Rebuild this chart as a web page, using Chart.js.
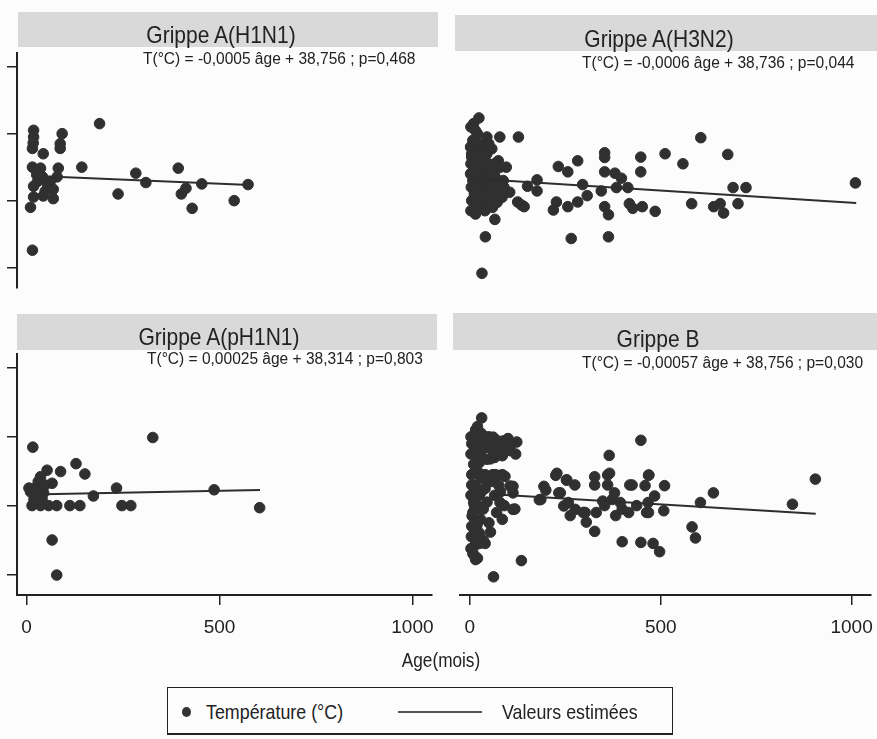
<!DOCTYPE html>
<html lang="fr">
<head>
<meta charset="UTF-8">
<title>Température selon l'âge - grippe</title>
<script src="https://cdn.jsdelivr.net/npm/chart.js"></script>
<style>
  body { margin: 0; background: #fcfcfc; }
  #page { position: relative; width: 877px; height: 739px; overflow: hidden;
          font-family: "Liberation Sans", Arial, sans-serif; color: #222; }
  .bande { position: absolute; background: #d9d9d9; }
  .titre { position: absolute; font-size: 24px; line-height: 1; white-space: nowrap;
           transform: translateX(-50%) scaleX(0.875); }
  .equation { position: absolute; font-size: 16px; line-height: 1; white-space: nowrap;
              transform-origin: left center; transform: scaleX(0.97); }
  canvas { position: absolute; }
  #axeX { position: absolute; left: 441px; top: 650px; font-size: 20px; line-height: 1; white-space: nowrap;
          transform: translateX(-50%) scaleX(0.86); }
  #legende { position: absolute; left: 167px; top: 687px; width: 504px; height: 45px;
             border: 1.5px solid #222; border-bottom-width: 2.5px; }
  .leg { position: absolute; font-size: 21px; line-height: 1; top: 13px; white-space: nowrap;
         transform-origin: left center; transform: scaleX(0.85); }
  #legPoint { position: absolute; left: 14px; top: 19px; width: 9px; height: 10px; border-radius: 50%; background: #333; }
  #legLigne { position: absolute; left: 230px; top: 23px; width: 84px; height: 2px; background: #555; }
</style>
</head>
<body>
<div id="page">

  <div class="bande" style="left:18px; top:12px; width:420px; height:35px"></div>
  <div class="bande" style="left:455px; top:15px; width:422px; height:36px"></div>
  <div class="bande" style="left:17px; top:314px; width:420px; height:36px"></div>
  <div class="bande" style="left:453px; top:313px; width:424px; height:37px"></div>

  <canvas id="g_h1n1" width="431" height="247" style="left:7px; top:47px"></canvas>
  <canvas id="g_h3n2" width="421" height="247" style="left:454px; top:47px"></canvas>
  <canvas id="g_ph1n1" width="431" height="302" style="left:7px; top:348px"></canvas>
  <canvas id="g_b" width="423" height="302" style="left:454px; top:348px"></canvas>

  <div class="titre" style="left:221px; top:23px">Grippe A(H1N1)</div>
  <div class="titre" style="left:659px; top:27px">Grippe A(H3N2)</div>
  <div class="titre" style="left:219px; top:325px">Grippe A(pH1N1)</div>
  <div class="titre" style="left:658px; top:327px">Grippe B</div>

  <div class="equation" style="left:143px; top:51px">T(°C) = -0,0005 âge + 38,756 ; p=0,468</div>
  <div class="equation" style="left:582px; top:55px">T(°C) = -0,0006 âge + 38,736 ; p=0,044</div>
  <div class="equation" style="left:147px; top:351px">T(°C) = 0,00025 âge + 38,314 ; p=0,803</div>
  <div class="equation" style="left:582px; top:355px">T(°C) = -0,00057 âge + 38,756 ; p=0,030</div>

  <div id="axeX">Age(mois)</div>

  <div id="legende">
    <div id="legPoint"></div>
    <div class="leg" style="left:38px">Température (°C)</div>
    <div id="legLigne"></div>
    <div class="leg" style="left:334px">Valeurs estimées</div>
  </div>

</div>

<script>
  // valeurs (âge en mois, température en °C)
  var ageTicks = [0, 500, 1000];
  var tempTicks = [36, 38, 40, 42];

  var h1n1Age = [18, 18, 15, 43, 92, 87, 87, 189, 15, 36,
                 82, 143, 283, 309, 393, 413, 401, 429, 454, 538,
                 574, 237, 15, 10, 18, 43, 69, 61, 79, 28,
                 54, 41, 18, 69, 26, 48, 17];
  var h1n1Temp = [40.1, 39.9, 39.56, 39.4, 40.0, 39.56, 39.7, 40.3, 39.0, 38.97,
                  38.97, 39.0, 38.82, 38.54, 38.97, 38.37, 38.2, 37.77, 38.5, 38.0,
                  38.48, 38.2, 36.52, 37.8, 38.11, 38.14, 38.06, 38.57, 38.71, 38.57,
                  38.48, 38.71, 38.43, 38.34, 38.77, 38.28, 39.72];
  var h1n1FitAge = [43, 579];
  var h1n1FitTemp = [38.73, 38.47];

  var h3n2Age = [24, 15, 45, 79, 128, 608, 355, 355, 450, 514,
                 679, 561, 284, 233, 258, 355, 382, 399, 450, 177,
                 152, 177, 297, 309, 346, 386, 416, 693, 727, 1015,
                 228, 220, 258, 284, 355, 365, 420, 429, 454, 488,
                 584, 642, 659, 668, 706, 105, 126, 143, 66, 41,
                 267, 365, 32, 96, 75, 136, 3, 8, 2, 12,
                 5, 18, 25, 30, 3, 10, 20, 35, 40, 45,
                 50, 2, 8, 15, 22, 28, 34, 42, 48, 55,
                 60, 65, 4, 12, 18, 25, 32, 38, 45, 52,
                 58, 63, 70, 78, 5, 10, 20, 30, 40, 50,
                 60, 72, 85, 88, 3, 15, 10, 20, 5, 15,
                 25, 35, 45, 55, 65, 75, 80, 90, 20, 10,
                 30, 50, 58];
  var h3n2Temp = [40.47, 40.09, 39.9, 39.9, 39.9, 39.88, 39.43, 39.29, 39.3, 39.4,
                  39.38, 39.1, 39.19, 39.02, 38.86, 38.86, 38.82, 38.67, 38.86, 38.62,
                  38.43, 38.29, 38.48, 38.15, 38.29, 38.39, 38.39, 38.39, 38.39, 38.53,
                  37.96, 37.72, 37.82, 37.96, 37.82, 37.58, 37.91, 37.77, 37.82, 37.68,
                  37.91, 37.82, 37.91, 37.63, 37.91, 38.25, 37.96, 37.82, 37.44, 36.92,
                  36.87, 36.92, 35.83, 39.0, 39.19, 37.87, 40.2, 39.8, 39.6, 39.5,
                  39.3, 39.4, 39.7, 39.5, 39.1, 39.0, 39.1, 39.2, 39.6, 39.4,
                  39.1, 38.8, 38.6, 38.8, 38.7, 38.5, 38.9, 38.8, 38.6, 38.9,
                  38.7, 39.1, 38.4, 38.2, 38.4, 38.1, 38.3, 38.0, 38.3, 38.2,
                  38.4, 38.0, 38.3, 38.5, 38.0, 37.75, 37.9, 37.8, 37.7, 37.9,
                  37.8, 37.95, 38.1, 38.6, 37.7, 37.6, 40.3, 40.0, 39.4, 39.2,
                  38.95, 38.6, 38.1, 38.5, 38.8, 38.6, 39.0, 38.4, 38.3, 38.5,
                  39.3, 39.7, 39.55];
  var h3n2FitAge = [15, 1017];
  var h3n2FitTemp = [38.65, 37.93];

  var ph1n1Age = [16, 327, 88, 128, 151, 53, 36, 66, 6, 27,
                  44, 173, 233, 486, 14, 36, 57, 78, 112, 138,
                  247, 270, 604, 66, 78, 19, 10, 22, 30, 48,
                  40];
  var ph1n1Temp = [39.7, 39.98, 38.99, 39.22, 38.92, 39.03, 38.84, 38.65, 38.51, 38.56,
                   38.37, 38.28, 38.51, 38.46, 38.0, 38.0, 38.0, 38.0, 38.0, 38.0,
                   38.0, 38.0, 37.94, 37.0, 35.98, 38.18, 38.4, 38.3, 38.7, 38.6,
                   38.2];
  var ph1n1FitAge = [44, 605];
  var ph1n1FitTemp = [38.33, 38.45];

  var bAge = [31, 448, 365, 905, 638, 604, 845, 582, 591, 399,
              448, 480, 497, 135, 62, 15, 425, 469, 459, 510,
              508, 327, 327, 361, 361, 228, 254, 275, 194, 186,
              113, 118, 237, 246, 263, 297, 305, 327, 331, 382,
              399, 373, 416, 467, 463, 484, 348, 15, 61, 87,
              123, 105, 79, 46, 28, 54, 10, 72, 105, 113,
              79, 113, 10, 28, 10, 54, 3, 20, 225, 253,
              199, 233, 182, 258, 276, 302, 366, 419, 468, 379,
              394, 353, 437, 468, 3, 8, 3, 10, 5, 15,
              3, 12, 6, 18, 4, 10, 25, 30, 20, 35,
              40, 45, 55, 65, 70, 25, 15, 35, 50, 70,
              90, 100, 60, 40, 8, 20, 30, 80, 90, 85,
              5, 20, 40, 55, 75, 95, 110, 120, 30, 65,
              85, 45, 10, 25, 5, 15, 20, 8, 20, 5,
              15, 25, 12, 30, 30, 40, 48, 60, 75, 85,
              50, 35, 66, 92];
  var bTemp = [40.55, 39.9, 39.46, 38.77, 38.37, 38.09, 38.04, 37.38, 37.06, 36.95,
               36.93, 36.9, 36.66, 36.4, 35.93, 36.43, 38.6, 38.89, 38.58, 38.58,
               37.85, 38.84, 38.6, 38.89, 38.6, 38.94, 38.75, 38.6, 38.56, 38.18,
               38.56, 37.9, 38.37, 37.99, 37.71, 37.8, 37.52, 37.25, 37.8, 37.71,
               37.9, 38.18, 37.8, 38.09, 37.8, 38.28, 38.13, 40.2, 39.99, 39.88,
               39.85, 39.6, 39.5, 39.7, 39.42, 39.36, 38.94, 38.88, 38.57, 38.37,
               38.09, 37.89, 38.09, 37.6, 37.15, 37.23, 36.75, 36.47, 38.88, 38.74,
               38.45, 38.37, 38.17, 38.09, 37.89, 37.8, 38.94, 38.6, 38.88, 38.37,
               38.09, 38.0, 38.0, 37.8, 40.0, 39.8, 39.5, 39.2, 38.9, 38.6,
               38.3, 38.0, 37.7, 37.4, 37.1, 36.8, 38.3, 38.8, 39.0, 37.9,
               38.5, 38.1, 38.7, 38.3, 37.8, 37.2, 39.6, 39.9, 40.0, 39.9,
               39.7, 39.95, 39.6, 36.9, 36.6, 40.3, 40.1, 38.4, 38.0, 37.6,
               39.8, 39.9, 40.0, 39.8, 39.7, 39.6, 39.8, 39.5, 39.6, 39.4,
               39.45, 39.35, 39.5, 39.25, 38.6, 38.3, 38.0, 37.8, 37.5, 37.4,
               37.0, 36.9, 36.55, 37.9, 38.4, 38.9, 38.7, 38.9, 38.6, 38.9,
               37.5, 37.0, 38.9, 38.85];
  var bFitAge = [60, 906];
  var bFitTemp = [38.33, 37.76];

  var police = '"Liberation Sans", Arial, sans-serif';

  function paires(xs, ys) {
    var res = [];
    for (var i = 0; i < xs.length; i++) {
      res.push({ x: xs[i], y: ys[i] });
    }
    return res;
  }

  function graphique(id, ages, temps, fitAge, fitTemp, avecAxeY, avecAxeX) {
    new Chart(document.getElementById(id), {
      type: 'scatter',
      data: {
        datasets: [
          {
            label: 'Valeurs estimées',
            data: paires(fitAge, fitTemp),
            showLine: true,
            borderColor: '#2e2e2e',
            borderWidth: 2,
            pointRadius: 0,
            order: 0
          },
          {
            label: 'Température (°C)',
            data: paires(ages, temps),
            backgroundColor: '#303030',
            borderColor: '#303030',
            borderWidth: 1,
            pointRadius: 5.3,
            order: 1
          }
        ]
      },
      options: {
        responsive: false,
        animation: false,
        devicePixelRatio: 1,
        layout: { padding: 0 },
        plugins: { legend: { display: false }, tooltip: { enabled: false } },
        scales: {
          x: {
            type: 'linear',
            min: -25,
            max: 1050,
            display: avecAxeX,
            afterBuildTicks: function (s) { s.ticks = ageTicks.map(function (v) { return { value: v }; }); },
            afterFit: function (s) {
              if (avecAxeX) { s.height = 55; }
              s.paddingLeft = 0; s.paddingRight = 0;
            },
            grid: { drawOnChartArea: false, tickLength: 10, color: '#222', lineWidth: 1.5 },
            border: { color: '#222', width: 2 },
            ticks: {
              color: '#222', padding: 11, maxRotation: 0,
              font: { family: police, size: 19 },
              callback: function (v) { return String(v); }
            }
          },
          y: {
            min: 35.4,
            max: 42.4,
            display: avecAxeY,
            afterBuildTicks: function (s) { s.ticks = tempTicks.map(function (v) { return { value: v }; }); },
            afterFit: function (s) {
              if (avecAxeY) { s.width = 10; }
              s.paddingTop = 0; s.paddingBottom = 0;
            },
            grid: { drawOnChartArea: false, tickLength: 10, color: '#222', lineWidth: 1.5 },
            border: { color: '#222', width: 2 },
            ticks: { display: false }
          }
        }
      }
    });
  }

  graphique('g_h1n1', h1n1Age, h1n1Temp, h1n1FitAge, h1n1FitTemp, true, false);
  graphique('g_h3n2', h3n2Age, h3n2Temp, h3n2FitAge, h3n2FitTemp, false, false);
  graphique('g_ph1n1', ph1n1Age, ph1n1Temp, ph1n1FitAge, ph1n1FitTemp, true, true);
  graphique('g_b', bAge, bTemp, bFitAge, bFitTemp, false, true);
</script>
</body>
</html>
